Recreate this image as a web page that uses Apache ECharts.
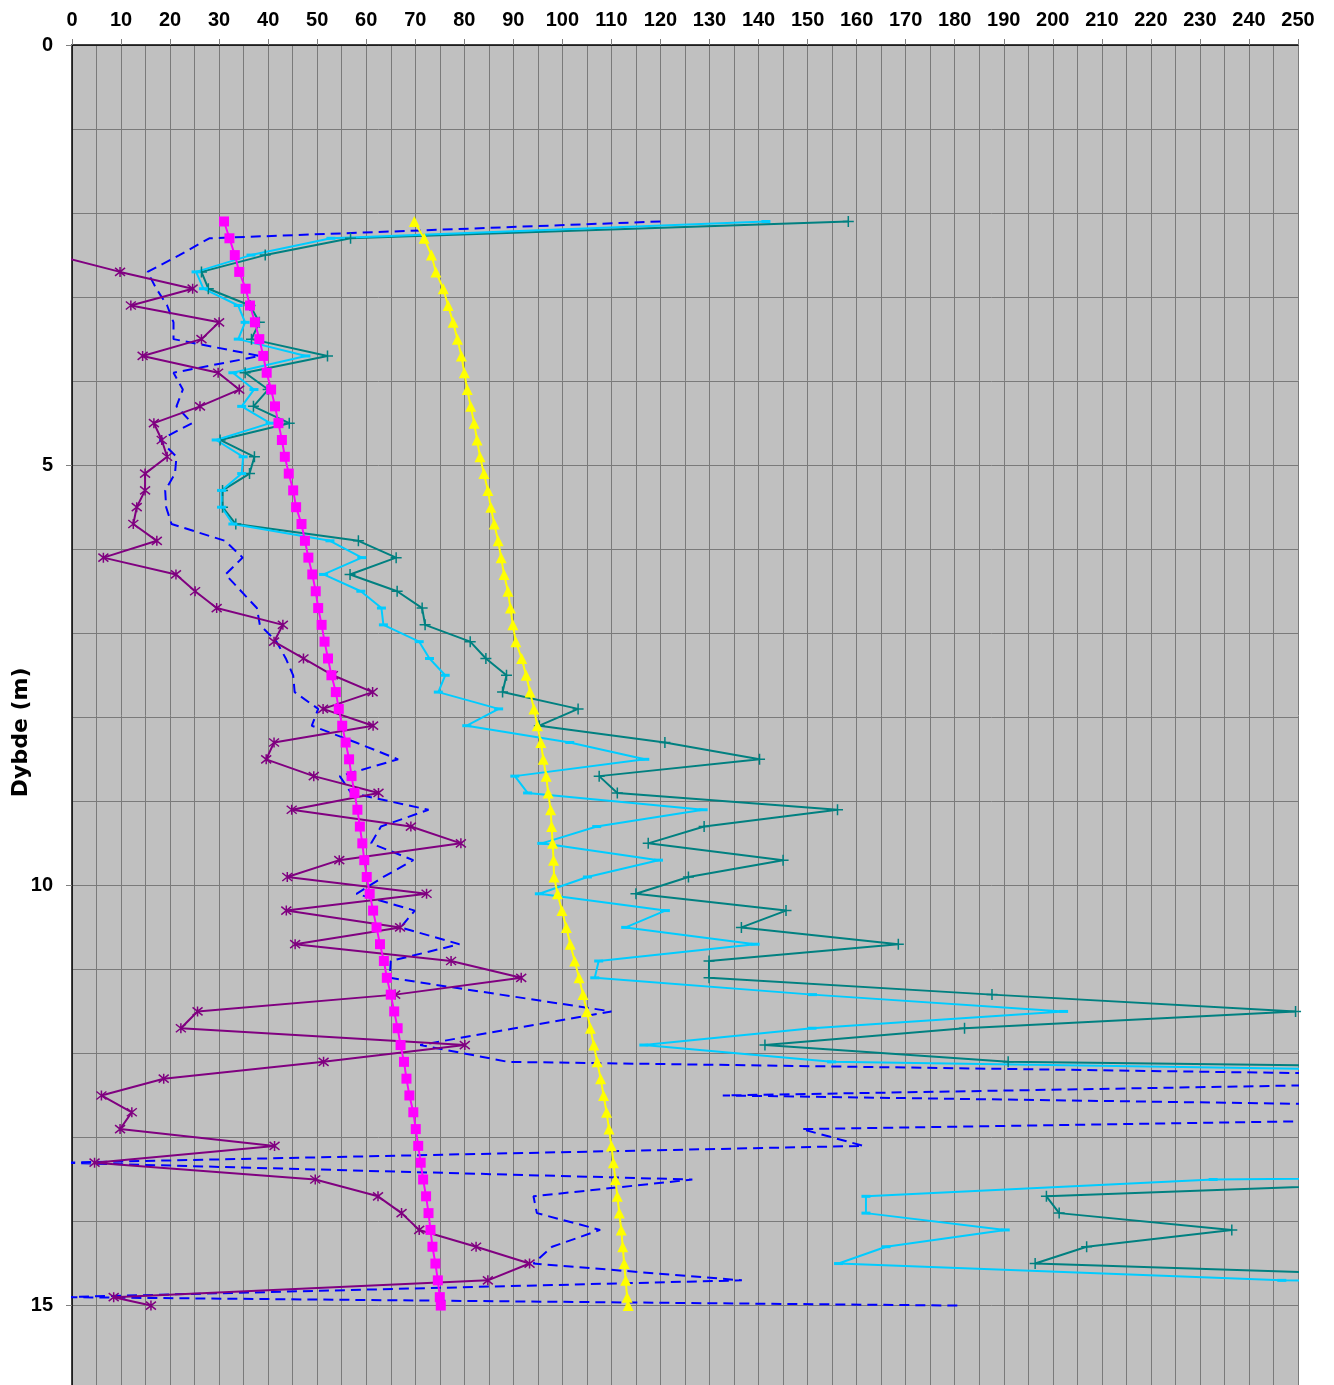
<!DOCTYPE html>
<html><head><meta charset="utf-8">
<script src="https://cdn.jsdelivr.net/npm/echarts@6/dist/echarts.min.js"></script>
<style>html,body{margin:0;padding:0;background:#fff;}#c{width:1334px;height:1385px;}</style>
</head><body><div id="c"></div>
<script>
// Depths (m)
const depths = [
  2.1, 2.3, 2.5, 2.7, 2.9, 3.1, 3.3, 3.5, 3.7, 3.9,
  4.1, 4.3, 4.5, 4.7, 4.9, 5.1, 5.3, 5.5, 5.7, 5.9,
  6.1, 6.3, 6.5, 6.7, 6.9, 7.1, 7.3, 7.5, 7.7, 7.9,
  8.1, 8.3, 8.5, 8.7, 8.9, 9.1, 9.3, 9.5, 9.7, 9.9,
  10.1, 10.3, 10.5, 10.7, 10.9, 11.1, 11.3, 11.5, 11.7, 11.9,
  12.1, 12.3, 12.5, 12.7, 12.9, 13.1, 13.3, 13.5, 13.7, 13.9,
  14.1, 14.3, 14.5, 14.7, 14.9, 15.0
];
// Magenta squares
const magentaVals = [
  31.0, 32.1, 33.2, 34.1, 35.4, 36.3, 37.3, 38.2, 39.0, 39.7,
  40.6, 41.4, 42.1, 42.8, 43.4, 44.2, 45.1, 45.7, 46.8, 47.5,
  48.2, 49.0, 49.7, 50.2, 50.9, 51.5, 52.2, 52.9, 53.8, 54.4,
  55.1, 55.8, 56.5, 57.0, 57.6, 58.2, 58.7, 59.2, 59.6, 60.1,
  60.7, 61.4, 62.1, 62.8, 63.6, 64.2, 65.0, 65.7, 66.4, 67.0,
  67.7, 68.2, 68.8, 69.6, 70.1, 70.6, 71.1, 71.6, 72.2, 72.7,
  73.1, 73.5, 74.1, 74.6, 75.0, 75.2
];
// Yellow triangles
const yellowVals = [
  69.8, 71.8, 73.3, 74.2, 75.7, 76.7, 77.7, 78.6, 79.4, 80.0,
  80.6, 81.3, 82.0, 82.6, 83.2, 84.0, 84.8, 85.4, 86.1, 86.9,
  87.5, 88.1, 88.9, 89.4, 89.9, 90.5, 91.7, 92.6, 93.4, 94.2,
  94.9, 95.6, 96.1, 96.7, 97.1, 97.6, 97.8, 98.0, 98.2, 98.3,
  99.0, 99.9, 100.8, 101.6, 102.5, 103.4, 104.2, 105.0, 105.7, 106.4,
  107.1, 107.8, 108.4, 109.0, 109.5, 110.0, 110.4, 110.8, 111.2, 111.6,
  112.0, 112.3, 112.6, 112.9, 113.2, 113.4
];
// Purple asterisks (starts at 2.5 m)
const purpleVals = [
  null, null, -3.5, 9.8, 24.6, 12.0, 30.0, 26.4, 14.4, 29.8,
  34.1, 26.1, 16.7, 18.3, 19.4, 14.9, 14.9, 13.2, 12.5, 17.3,
  6.4, 21.2, 25.1, 29.5, 43.0, 41.2, 47.2, 53.2, 61.3, 51.2,
  61.4, 41.2, 39.6, 49.3, 62.5, 44.8, 69.1, 79.3, 54.5, 43.9,
  72.3, 43.7, 66.9, 45.5, 77.3, 91.6, 65.9, 25.6, 22.2, 80.1,
  51.3, 18.7, 6.0, 12.2, 9.8, 41.3, 4.6, 49.6, 62.4, 67.2,
  70.8, 82.4, 93.3, 84.8, 8.5, 16.1
];
// Blue dashed
const blueVals = [
  120.0, 28.0, 21.9, 15.4, 17.2, 19.4, 20.7, 20.7, 38.3, 20.7,
  22.6, 21.3, 24.5, 17.9, 21.3, 21.0, 19.0, 19.2, 20.3, 31.2,
  34.8, 31.3, 34.5, 37.7, 38.3, 41.7, 43.6, 45.1, 45.4, 50.2,
  48.9, 57.9, 66.5, 54.6, 56.9, 72.7, 63.0, 61.0, 69.6, 63.5,
  58.0, 69.9, 67.0, 79.0, 65.0, 64.8, 87.4, 110.0, 90.3, 71.0,
  88.9, 330, 132.7, 370, 148.8, 161.4, -2, 126.5, 94.1, 94.8,
  107.7, 97.9, 94.1, 136.6, -2, 180.7
];
// Teal plus markers
const tealVals = [
  158.3, 56.8, 39.4, 26.4, 27.8, 36.3, 38.2, 36.6, 52.1, 35.3,
  40.0, 37.0, 44.3, 30.2, 37.2, 36.2, 30.7, 30.7, 33.4, 58.4,
  66.1, 56.7, 66.3, 71.4, 72.0, 81.2, 84.4, 88.6, 87.8, 103.2,
  95.3, 120.9, 140.2, 107.5, 111.2, 156.1, 128.9, 117.5, 145.0, 125.7,
  115.0, 145.6, 136.5, 168.5, 129.9, 129.9, 187.6, 249.5, 182.0, 141.3,
  190.9, 480, 500, 500, 500, 500, 500, 292, 198.7, 201.3,
  236.5, 206.9, 196.4, 304, 400
];
// Cyan dash markers
const cyanVals = [
  141.5, 52.8, 36.5, 25.3, 26.8, 33.9, 35.3, 33.9, 47.7, 32.8,
  37.1, 34.6, 40.4, 29.4, 34.9, 34.6, 30.5, 30.5, 32.8, 52.6,
  59.1, 51.3, 58.9, 63.1, 63.5, 70.8, 72.9, 76.1, 74.7, 87.0,
  80.5, 101.5, 116.8, 90.3, 92.9, 128.7, 107.0, 95.8, 119.6, 105.1,
  95.3, 121.0, 112.9, 139.3, 107.4, 106.6, 151.0, 202.2, 150.9, 116.6,
  154.9, 390, 450, 450, 450, 450, 580, 232.7, 161.9, 161.9,
  190.3, 166.0, 156.3, 246.7, 600
];

function pairs(vals) {
  const out = [];
  vals.forEach((v, i) => { if (v !== null) out.push([v, depths[i]]); });
  return out;
}

const font = { fontFamily: 'Liberation Sans, Arial, sans-serif', fontWeight: 'bold', fontSize: 20, color: '#000' };
const nameFont = { fontFamily: 'DejaVu Sans, sans-serif', fontWeight: 'bold', fontSize: 22, color: '#000' };
const gridColor = '#7a7a7a';
const asterisk = 'path://M1,1L9,9M1,9L9,1M5,0L5,10';
const plus = 'path://M0,5L10,5M5,0L5,10';

const chart = echarts.init(document.getElementById('c'));
chart.setOption({
  animation: false,
  grid: { left: 72, top: 45, width: 1226, height: 1344.6, show: true, backgroundColor: '#C0C0C0', borderWidth: 0,
          containLabel: false, outerBoundsMode: 'none' },
  xAxis: {
    type: 'value', position: 'top', min: 0, max: 250, interval: 10,
    axisLine: { show: true, onZero: false, lineStyle: { color: '#000', width: 1.5 } },
    axisTick: { show: true, length: 6, lineStyle: { color: '#808080' } },
    axisLabel: Object.assign({ margin: 15 }, font),
    splitLine: { show: true, lineStyle: { color: gridColor, width: 1 } },
    minorTick: { show: false, splitNumber: 2 },
    minorSplitLine: { show: true, lineStyle: { color: gridColor, width: 1 } }
  },
  yAxis: [{
    type: 'value', inverse: true, min: 0, max: 16, interval: 5,
    name: 'Dybde (m)', nameLocation: 'middle', nameGap: 40, nameMoveOverlap: false,
    nameTextStyle: Object.assign({ padding: [0, 30, 0, 0] }, nameFont),
    axisLine: { show: true, onZero: false, lineStyle: { color: '#000', width: 1.5 } },
    axisTick: { show: true, length: 6, lineStyle: { color: '#808080' } },
    axisLabel: Object.assign({ margin: 19, showMaxLabel: false }, font),
    splitLine: { show: false }
  }, {
    type: 'value', inverse: true, min: 0, max: 16, interval: 1, position: 'left',
    axisLine: { show: false }, axisTick: { show: false }, axisLabel: { show: false },
    splitLine: { show: true, lineStyle: { color: gridColor, width: 1 } }
  }],
  series: [
    { type: 'line', name: 'blue', data: pairs(blueVals), symbol: 'none', clip: true, silent: true,
      lineStyle: { color: '#0000FF', width: 2, type: [10, 6] }, z: 2 },
    { type: 'line', name: 'purple', data: pairs(purpleVals), symbol: asterisk, symbolSize: 10, clip: true, silent: true,
      itemStyle: { color: '#800080', borderColor: '#800080', borderWidth: 1.5 },
      lineStyle: { color: '#800080', width: 2 }, z: 3 },
    { type: 'line', name: 'teal', data: pairs(tealVals), symbol: plus, symbolSize: 11, clip: true, silent: true,
      itemStyle: { color: '#008080', borderColor: '#008080', borderWidth: 1.5 },
      lineStyle: { color: '#008080', width: 2 }, z: 3 },
    { type: 'line', name: 'cyan', data: pairs(cyanVals), symbol: 'rect', symbolSize: [9, 3], clip: true, silent: true,
      itemStyle: { color: '#00CCFF' },
      lineStyle: { color: '#00CCFF', width: 2 }, z: 3 },
    { type: 'line', name: 'yellow', data: pairs(yellowVals), symbol: 'triangle', symbolSize: 11, clip: true, silent: true,
      itemStyle: { color: '#FFFF00' },
      lineStyle: { color: '#FFFF00', width: 2 }, z: 4 },
    { type: 'line', name: 'magenta', data: pairs(magentaVals), symbol: 'rect', symbolSize: 10, clip: true, silent: true,
      itemStyle: { color: '#FF00FF' },
      lineStyle: { color: '#FF00FF', width: 2 }, z: 4 }
  ]
});
</script>
</body></html>
